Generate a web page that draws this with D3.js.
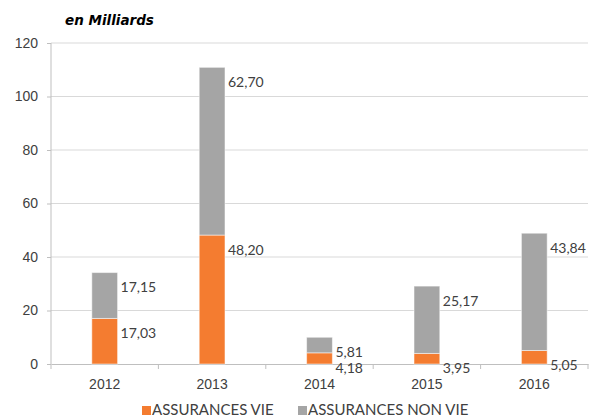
<!DOCTYPE html>
<html lang="fr">
<head>
<meta charset="UTF-8">
<style>
  body { margin: 0; background: #fff; }
  svg { font-family: Lato, "Open Sans", sans-serif; }
  .axis text { fill: #404040; font-size: 14px; }
  .axis path, .axis line { stroke: #bfbfbf; }
  .grid line { stroke: #d9d9d9; }
  .lbl { fill: #404040; font-size: 14px; }
</style>
</head>
<body>
<svg width="590" height="419"></svg>
<script src="https://cdn.jsdelivr.net/npm/d3@7"></script>
<script>
var years = ["2012", "2013", "2014", "2015", "2016"];
var vie = [17.03, 48.20, 4.18, 3.95, 5.05];
var nonVie = [17.15, 62.70, 5.81, 25.17, 43.84];
var seriesNames = ["ASSURANCES VIE", "ASSURANCES NON VIE"];
var colors = ["#f47c30", "#a5a5a5"];
var yTicks = [0, 20, 40, 60, 80, 100, 120];

var svg = d3.select("svg"),
    margin = {top: 43, right: 2, bottom: 55, left: 51},
    width = 590 - margin.left - margin.right,
    height = 419 - margin.top - margin.bottom,
    g = svg.append("g").attr("transform", "translate(" + margin.left + "," + margin.top + ")");

var x = d3.scaleBand().domain(years).range([0, width]).paddingInner(0.76).paddingOuter(0.38);
var y = d3.scaleLinear().domain([0, 120]).range([height, 0]);

var rows = years.map(function(yr, i) { return {year: yr, vie: vie[i], nonVie: nonVie[i]}; });
var stack = d3.stack().keys(["vie", "nonVie"])(rows);

// grid
g.append("g").attr("class", "grid")
  .selectAll("line").data(yTicks.slice(1)).enter().append("line")
  .attr("x1", 0).attr("x2", width)
  .attr("y1", function(d) { return y(d); }).attr("y2", function(d) { return y(d); });

// y axis
var yAxis = g.append("g").attr("class", "axis")
  .call(d3.axisLeft(y).tickValues(yTicks).tickSize(4).tickPadding(9).tickFormat(d3.format("d")));
yAxis.select(".domain").attr("d", "M0," + y(0) + "V" + y(120));

// x axis
var xAxis = g.append("g").attr("class", "axis")
  .attr("transform", "translate(0," + height + ")")
  .call(d3.axisBottom(x).tickSize(0).tickPadding(12));
xAxis.selectAll(".tick text").attr("dy", "0.9em");
var step = x.step();
xAxis.selectAll(".bnd").data(d3.range(years.length + 1)).enter().append("line")
  .attr("class", "bnd")
  .attr("x1", function(i) { return i * step; }).attr("x2", function(i) { return i * step; })
  .attr("y1", 0).attr("y2", 5);

// bars
var layer = g.selectAll(".layer").data(stack).enter().append("g")
  .attr("class", "layer")
  .attr("fill", function(d, i) { return colors[i]; });

layer.selectAll("rect").data(function(d) { return d; }).enter().append("rect")
  .attr("x", function(d) { return x(d.data.year); })
  .attr("width", x.bandwidth())
  .attr("y", function(d) { return y(d[1]); })
  .attr("height", function(d) { return y(d[0]) - y(d[1]); })
  .attr("stroke", "#ffffff").attr("stroke-opacity", 0.5).attr("stroke-width", 1);

layer.selectAll("text").data(function(d) { return d.map(function(v) { return {v: v, key: d.key}; }); })
  .enter().append("text")
  .attr("class", "lbl")
  .attr("x", function(d) { return x(d.v.data.year) + x.bandwidth() + 3; })
  .attr("y", function(d) { return y(d.v[1]) + 15; })
  .attr("dy", "0.35em")
  .text(function(d) { return d3.format(".2f")(d.v.data[d.key]).replace(".", ","); });

// title
svg.append("text")
  .attr("x", 65).attr("y", 25)
  .style("font-family", "'DejaVu Sans', sans-serif")
  .style("font-size", "13.5px").style("font-weight", "bold").style("font-style", "italic")
  .attr("fill", "#000")
  .text("en Milliards");

// legend
var legendX = [142, 298];
var legend = svg.selectAll(".leg").data(seriesNames).enter().append("g")
  .attr("class", "leg")
  .attr("transform", function(d, i) { return "translate(" + legendX[i] + ",403)"; });
legend.append("rect").attr("width", 9).attr("height", 9).attr("y", 3)
  .attr("fill", function(d, i) { return colors[i]; });
legend.append("text").attr("x", 10).attr("y", 12)
  .attr("fill", "#404040").style("font-size", "15px")
  .text(function(d) { return d; });
</script>
</body>
</html>
